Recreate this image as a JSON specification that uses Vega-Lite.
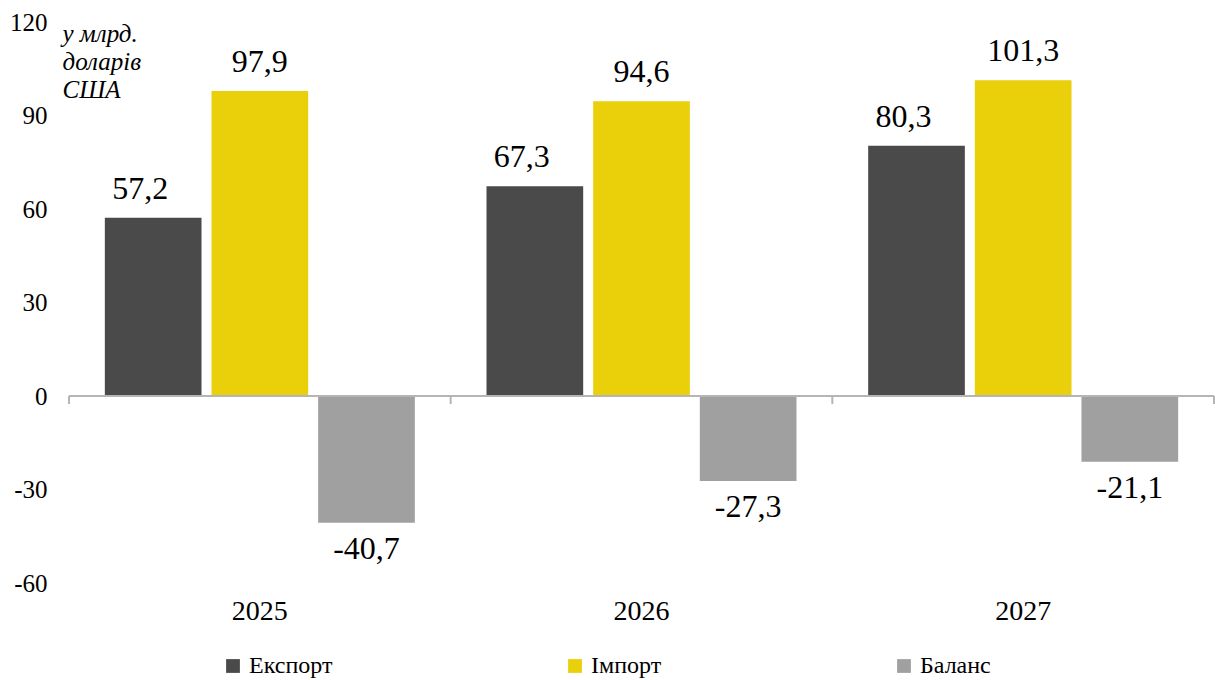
{
  "$schema": "https://vega.github.io/schema/vega-lite/v6.json",
  "width": 1145,
  "height": 561,
  "autosize": "none",
  "padding": {"left": 69, "top": 22, "right": 1, "bottom": 97},
  "background": "white",
  "config": {
    "view": {"stroke": null},
    "font": "Liberation Serif",
    "axis": {"labelColor": "#000000", "titleColor": "#000000"}
  },
  "data": {
    "values": [
      {"year": "2025", "series": "Експорт", "value": 57.2},
      {"year": "2025", "series": "Імпорт", "value": 97.9},
      {"year": "2025", "series": "Баланс", "value": -40.7},
      {"year": "2026", "series": "Експорт", "value": 67.3},
      {"year": "2026", "series": "Імпорт", "value": 94.6},
      {"year": "2026", "series": "Баланс", "value": -27.3},
      {"year": "2027", "series": "Експорт", "value": 80.3},
      {"year": "2027", "series": "Імпорт", "value": 101.3},
      {"year": "2027", "series": "Баланс", "value": -21.1}
    ]
  },
  "transform": [
    {"calculate": "replace(replace(format(datum.value, '.1f'), '.', ','), '\u2212', '-')", "as": "label"}
  ],
  "encoding": {
    "x": {
      "field": "year", "type": "nominal",
      "scale": {"paddingInner": 0, "paddingOuter": 0},
      "axis": {"title": null, "domain": false, "ticks": false, "labelAngle": 0, "labelFont": "Liberation Serif", "labelFontSize": 28, "labelPadding": 14}
    },
    "y": {
      "field": "value", "type": "quantitative",
      "scale": {"domain": [-60, 120], "nice": false, "zero": false},
      "axis": {
        "values": [-60, -30, 0, 30, 60, 90, 120],
        "labelExpr": "replace(datum.label, '\u2212', '-')",
        "grid": false, "domain": false, "ticks": false,
        "labelFont": "Liberation Serif", "titleFont": "Liberation Serif",
        "labelFontSize": 25, "labelPadding": 22,
        "title": ["у млрд.", "доларів", "США"],
        "titleAngle": 0, "titleAlign": "left", "titleBaseline": "top",
        "titleX": -7, "titleY": -1, "titleFontStyle": "italic", "titleFontWeight": "normal",
        "titleFontSize": 25, "titleLineHeight": 28
      }
    }
  },
  "layer": [
    {
      "mark": {"type": "bar"},
      "encoding": {
        "xOffset": {"field": "series", "type": "nominal", "sort": ["Експорт", "Імпорт", "Баланс"],
          "scale": {"paddingInner": 0.0935, "paddingOuter": 0.336}},
        "color": {
          "field": "series", "type": "nominal",
          "scale": {"domain": ["Експорт", "Імпорт", "Баланс"], "range": ["#4a4a4a", "#eacf0b", "#a0a0a0"]},
          "legend": {
            "title": null, "orient": "none", "direction": "horizontal",
            "legendX": 152, "legendY": 632,
            "symbolType": "square", "symbolSize": 190, "symbolStrokeWidth": 0,
            "labelFont": "Liberation Serif",
            "labelFontSize": 24, "labelColor": "#000000", "labelOffset": 4,
            "columnPadding": 230
          }
        }
      }
    },
    {
      "data": {"values": [{"z": 0}]},
      "mark": {"type": "rule", "color": "#b5b5b5", "strokeWidth": 2},
      "encoding": {"x": null, "y": {"field": "z", "type": "quantitative"}}
    },
    {
      "transform": [{"filter": "datum.series == 'Експорт'"}],
      "mark": {"type": "rule", "color": "#b5b5b5", "strokeWidth": 2},
      "encoding": {
        "x": {"field": "year", "type": "nominal", "bandPosition": 0},
        "y": {"datum": 0},
        "y2": {"datum": -2.6}
      }
    },
    {
      "transform": [{"filter": "datum.series == 'Експорт' && datum.year == '2027'"}],
      "mark": {"type": "rule", "color": "#b5b5b5", "strokeWidth": 2},
      "encoding": {
        "x": {"field": "year", "type": "nominal", "bandPosition": 1},
        "y": {"datum": 0},
        "y2": {"datum": -2.6}
      }
    },
    {
      "transform": [{"filter": "datum.series == 'Експорт'"}],
      "mark": {"type": "text", "font": "Liberation Serif", "fontSize": 32, "baseline": "bottom", "dy": -12, "dx": -13, "color": "#000000"},
      "encoding": {
        "xOffset": {"field": "series", "type": "nominal", "sort": ["Експорт", "Імпорт", "Баланс"]},
        "text": {"field": "label"}
      }
    },
    {
      "transform": [{"filter": "datum.series == 'Імпорт'"}],
      "mark": {"type": "text", "font": "Liberation Serif", "fontSize": 32, "baseline": "bottom", "dy": -12, "color": "#000000"},
      "encoding": {
        "xOffset": {"field": "series", "type": "nominal", "sort": ["Експорт", "Імпорт", "Баланс"]},
        "text": {"field": "label"}
      }
    },
    {
      "transform": [{"filter": "datum.value < 0"}],
      "mark": {"type": "text", "font": "Liberation Serif", "fontSize": 32, "baseline": "top", "dy": 11, "color": "#000000"},
      "encoding": {
        "xOffset": {"field": "series", "type": "nominal", "sort": ["Експорт", "Імпорт", "Баланс"]},
        "text": {"field": "label"}
      }
    }
  ]
}
